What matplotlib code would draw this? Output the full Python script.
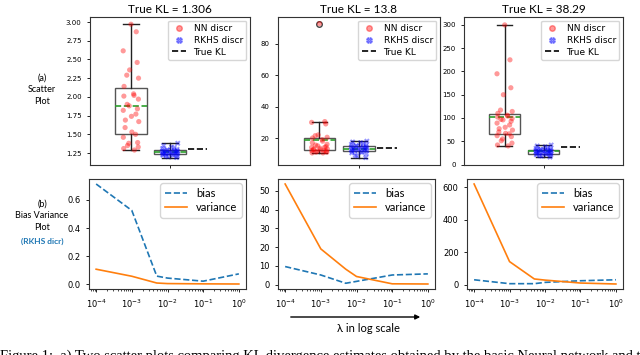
import numpy as np
import matplotlib
matplotlib.use("Agg")
import matplotlib.pyplot as plt
from matplotlib.lines import Line2D

# ---------------- data ----------------
titles = ["True KL = 1.306", "True KL = 13.8", "True KL = 38.29"]
true_kl = [1.306, 13.8, 38.29]

nn_1 = [2.97, 2.87, 2.615, 2.46, 2.36, 2.29, 2.25, 2.14, 2.04, 2.02,
        2.01, 1.97, 1.90, 1.88, 1.84, 1.82, 1.77, 1.74, 1.69, 1.67,
        1.59, 1.53, 1.50, 1.46, 1.39, 1.38, 1.35, 1.33, 1.31, 1.29]
rkhs_1 = [1.19, 1.20, 1.21, 1.21, 1.22, 1.22, 1.23, 1.23, 1.24, 1.24,
          1.25, 1.25, 1.25, 1.26, 1.26, 1.26, 1.27, 1.27, 1.27, 1.28,
          1.28, 1.28, 1.29, 1.29, 1.30, 1.31, 1.32, 1.33, 1.35, 1.38]

nn_2 = [93, 30.5, 30, 29, 22, 21.5, 20.5, 20, 19, 18,
        17, 16, 15.5, 15, 14.5, 14, 14, 13.5, 13, 13,
        12.5, 12.5, 12, 12, 11.5, 11.5, 11, 11, 10.5, 10.5]
rkhs_2 = [7.5, 8.5, 9, 10, 10.5, 11, 11, 11.5, 12, 12,
          12, 12.5, 12.5, 13, 13, 13, 13.5, 13.5, 14, 14,
          14.5, 14.5, 15, 15, 15.5, 16, 16.5, 17, 17.5, 18]

nn_3 = [300, 225, 195, 165, 150, 117, 114, 110, 106, 104,
        102, 99, 97, 96, 93, 89, 85, 80, 77, 74,
        70, 67, 66, 62, 60, 55, 51, 46, 42, 40]
rkhs_3 = [16, 18, 19, 20, 21, 22, 23, 23, 24, 25,
          25, 26, 27, 27, 28, 28, 29, 29, 30, 30,
          31, 31, 32, 33, 34, 35, 36, 38, 40, 42]

nn_sets = [nn_1, nn_2, nn_3]
rkhs_sets = [rkhs_1, rkhs_2, rkhs_3]

lambdas = [1e-4, 1e-3, 5e-3, 1e-2, 1e-1, 1e0]
bias_1 = [0.713, 0.525, 0.059, 0.045, 0.023, 0.075]
var_1 = [0.108, 0.058, 0.010, 0.006, 0.004, 0.003]
bias_2 = [9.7, 5.2, 0.8, 1.8, 5.2, 5.8]
var_2 = [53.7, 19.1, 8.3, 4.4, 0.5, 0.4]
bias_3 = [30, 6, 6, 14, 24, 30]
var_3 = [620, 142, 35, 28, 10, 4]
bias_sets = [bias_1, bias_2, bias_3]
var_sets = [var_1, var_2, var_3]

# ---------------- figure ----------------
W, H = 640, 355
fig = plt.figure(figsize=(6.4, 3.55), dpi=100)

def rect(x0, x1, y0, y1):
    return [x0 / W, 1 - y1 / H, (x1 - x0) / W, (y1 - y0) / H]

top_rects = [rect(90, 250, 17, 165), rect(278, 440, 17, 165), rect(464, 623, 17, 165)]
bot_rects = [rect(89, 246, 179, 289), rect(278, 435, 179, 289), rect(467, 623, 179, 289)]
whis_list = [(0, 100), 1.5, (0, 100)]
ylims = [(1.09, 3.067), (2.8, 97.2), (-1, 317)]

title_font = ['Lato', 'DejaVu Sans']

for i in range(3):
    ax = fig.add_axes(top_rects[i])
    nn = np.array(nn_sets[i]); rk = np.array(rkhs_sets[i])
    bp = ax.boxplot([nn, rk], positions=[1, 2], widths=0.8, whis=whis_list[i],
                    showmeans=True, meanline=True, patch_artist=True,
                    boxprops=dict(facecolor='white', edgecolor='#555555', linewidth=1.0),
                    whiskerprops=dict(color='#222222', linewidth=1.0),
                    capprops=dict(color='#222222', linewidth=1.0),
                    medianprops=dict(linewidth=0),
                    meanprops=dict(color='#2ca02c', linestyle='--', linewidth=1.2),
                    flierprops=dict(marker='o', markersize=4, markeredgecolor='#444444',
                                    markerfacecolor='none'))
    jn = 0.2 * np.sin(np.arange(len(nn)) * 2.399)
    jr = 0.2 * np.sin(np.arange(len(rk)) * 2.399 + 1.0)
    ax.scatter(1 + jn, nn, s=14, color='red', alpha=0.4, edgecolors='none', zorder=3)
    ax.scatter(2 + jr, rk, s=16, color='blue', marker='X', alpha=0.4, edgecolors='none', zorder=3)
    ax.hlines(true_kl[i], 2.45, 2.95, colors='k', linestyles='--', linewidth=1.2)
    ax.set_xlim(-0.05, 4.05)
    ax.set_ylim(*ylims[i])
    ax.set_xticks([2]); ax.set_xticklabels([''])
    ax.tick_params(labelsize=5, length=2.5, width=0.6)
    for s in ax.spines.values():
        s.set_linewidth(0.8); s.set_color('#333333')
    ax.set_title(titles[i], fontsize=8.5, family=title_font, pad=3)
    handles = [Line2D([], [], marker='o', color='red', alpha=0.4, linestyle='none', markersize=4),
               Line2D([], [], marker='X', color='blue', alpha=0.4, linestyle='none', markersize=4),
               Line2D([], [], color='k', linestyle='--', linewidth=1.2)]
    ax.legend(handles, ['NN discr', 'RKHS discr', 'True KL'], loc='upper right',
              fontsize=6.5, handlelength=1.6, borderaxespad=0.4, labelspacing=0.3,
              handletextpad=0.8, framealpha=0.8)

for i in range(3):
    ax = fig.add_axes(bot_rects[i])
    ax.plot(lambdas, bias_sets[i], '--', color='#1f77b4', linewidth=1.2, label='bias')
    ax.plot(lambdas, var_sets[i], '-', color='#ff7f0e', linewidth=1.2, label='variance')
    ax.set_xscale('log')
    ax.set_xticks([1e-4, 1e-3, 1e-2, 1e-1, 1e0])
    ax.tick_params(labelsize=6, length=2.5, width=0.6)
    ax.tick_params(which='minor', length=1.5, width=0.5)
    for s in ax.spines.values():
        s.set_linewidth(0.8); s.set_color('#333333')
    ax.legend(loc='upper right', handlelength=2.0, borderaxespad=0.4,
              labelspacing=0.3, prop={'family': title_font, 'size': 8})

# left row labels
fig.text(42 / W, 1 - 90 / H, "(a)\nScatter\nPlot", ha='center', va='center',
         fontsize=6.5, family=title_font, linespacing=1.35)
fig.text(42 / W, 1 - 216 / H, "(b)\nBias Variance\nPlot", ha='center', va='center',
         fontsize=6.5, family=title_font, linespacing=1.35)
fig.text(42 / W, 1 - 241 / H, "(RKHS dicr)", ha='center', va='center',
         fontsize=6, family=title_font, color='#1f77b4', fontweight='bold')

# lambda arrow
fig.patches.append(matplotlib.patches.FancyArrowPatch(
    (288 / W, 1 - 317 / H), (423 / W, 1 - 317 / H), transform=fig.transFigure,
    arrowstyle='-|>', mutation_scale=7, color='k', linewidth=1.0))
fig.text(368 / W, 1 - 328 / H, "λ in log scale", ha='center', va='center',
         fontsize=8, family=title_font)

# caption (clipped at the bottom edge, as in the reference)
fig.text(0.0, 1 - 350 / H, "Figure 1:  a) Two scatter plots comparing KL divergence estimates obtained by the basic Neural network and the",
         ha='left', va='top', fontsize=10.5, family=['Liberation Serif', 'DejaVu Serif'])

fig.savefig("out.png", dpi=100)
